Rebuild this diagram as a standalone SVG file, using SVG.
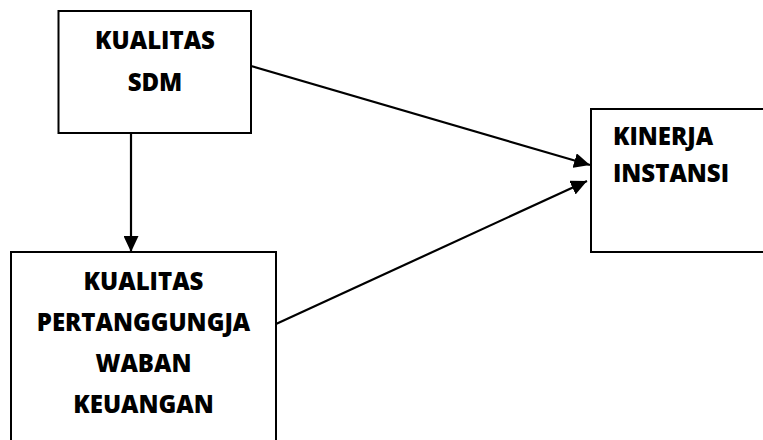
<svg xmlns="http://www.w3.org/2000/svg" width="763" height="440" viewBox="0 0 763 440">
<style>
.box{fill:#fff;stroke:#000;stroke-width:2}
.lbl{font-family:"Open Sans","Liberation Sans",sans-serif;font-weight:800;font-size:24px;fill:#000}
.c{text-anchor:middle}
.conn{stroke:#000;stroke-width:2.2;fill:none;marker-end:url(#ah)}
</style>
<defs>
<marker id="ah" markerUnits="userSpaceOnUse" markerWidth="17" markerHeight="15" refX="16" refY="7.5" orient="auto">
<path d="M0,0 L16,7.5 L0,15 Z" fill="#000"/>
</marker>
</defs>
<rect width="763" height="440" fill="#fff"/>
<g id="node-sdm">
<rect class="box" x="58.5" y="11" width="192.5" height="122"/>
<text class="lbl c" x="155" y="49">KUALITAS</text>
<text class="lbl c" x="155" y="91">SDM</text>
</g>
<g id="node-keuangan">
<rect class="box" x="11" y="252" width="265" height="200"/>
<text class="lbl c" x="143.5" y="290">KUALITAS</text>
<text class="lbl c" x="143.5" y="331">PERTANGGUNGJA</text>
<text class="lbl c" x="143.5" y="372">WABAN</text>
<text class="lbl c" x="143.5" y="413">KEUANGAN</text>
</g>
<g id="node-kinerja">
<rect class="box" x="591" y="109" width="180" height="143"/>
<text class="lbl" x="613" y="145">KINERJA</text>
<text class="lbl" x="613" y="182">INSTANSI</text>
</g>
<g id="connectors">
<line class="conn" x1="251" y1="66" x2="590" y2="165"/>
<line class="conn" x1="276" y1="324" x2="587" y2="181"/>
<line class="conn" x1="131" y1="133" x2="131" y2="252"/>
</g>
</svg>
